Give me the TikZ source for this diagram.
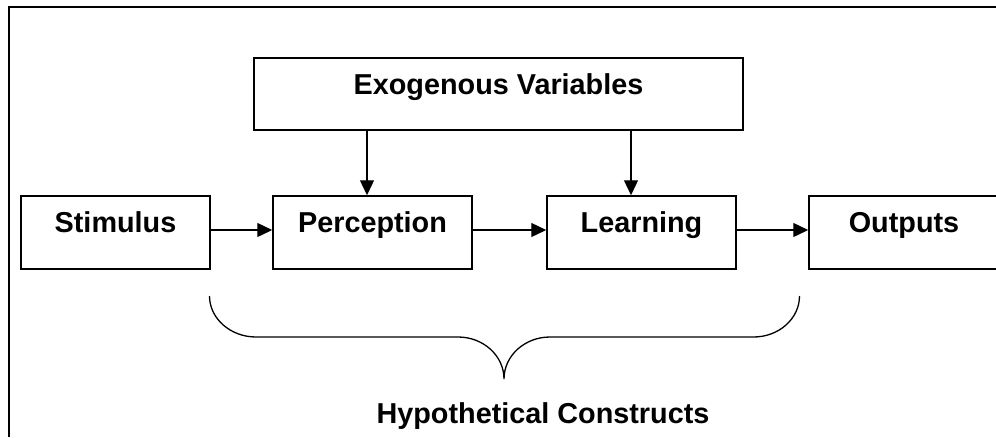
\documentclass[tikz,border=0pt]{standalone}
\usepackage{fontspec}
\setmainfont{Liberation Sans}
\usetikzlibrary{arrows.meta}
\begin{document}
\begin{tikzpicture}[x=1pt,y=-1pt,
  box/.style={draw,line width=1.5pt,rectangle,inner xsep=0pt,inner ysep=0pt,
    text height=36.5pt,text depth=36.5pt,font=\fontsize{28.8}{30}\selectfont\bfseries},
  lbl/.style={inner sep=0pt,font=\fontsize{28.8}{30}\selectfont\bfseries},
  arr/.style={line width=1.3pt,-{Triangle[length=15pt,width=14pt]}},
  frame/.style={line width=2pt},
  brace/.style={line width=1.3pt}]
\useasboundingbox (0,0) rectangle (996,437);
\clip (0,0) rectangle (996,437);
% outer frame (only top and left visible)
\coordinate (fl) at (9,437);
\coordinate (ftl) at (9,7);
\coordinate (fr) at (1000,7);
\draw[frame] (fl) -- (ftl) -- (fr);
% boxes
\node[box,minimum width=189pt] (stim) at (115.5,232.5) {Stimulus};
\node[box,minimum width=199pt] (perc) at (372.5,232.5) {Perception};
\node[box,minimum width=189pt] (learn) at (641.5,232.5) {Learning};
\node[box,minimum width=190pt] (out) at (904,232.5) {Outputs};
\node[box,minimum width=489pt,text height=36pt,text depth=36pt] (exo) at (498.5,94) {Exogenous Variables};
% horizontal arrows
\draw[arr] (stim.east |- 0,230) -- (perc.west |- 0,230);
\draw[arr] (perc.east |- 0,230) -- (learn.west |- 0,230);
\draw[arr] (learn.east |- 0,230) -- (out.west |- 0,230);
% vertical arrows
\draw[arr] (exo.south -| 367,0) -- (perc.north -| 367,0);
\draw[arr] (exo.south -| 631,0) -- (learn.north -| 631,0);
% brace
\coordinate (bl) at (209.5,296);
\coordinate (bt) at (504,379);
\coordinate (br) at (799.5,296);
\draw[brace] (bl) .. controls (209.5,318.6) and (230.6,337) .. (256,337)
  -- (458,337) .. controls (483.4,337) and (504,355.8) .. (bt)
  .. controls (504,355.8) and (524.6,337) .. (550,337)
  -- (753.5,337) .. controls (778.9,337) and (799.5,318.6) .. (br);
\node[lbl,anchor=base] (hyp) at (543,423) {Hypothetical Constructs};
\end{tikzpicture}
\end{document}
